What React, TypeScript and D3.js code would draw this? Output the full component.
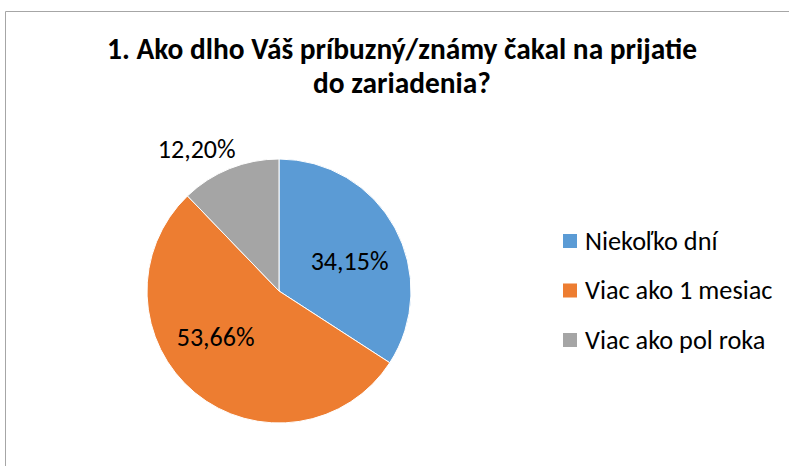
import { useRef, useEffect } from "react";
import * as d3 from "d3";

const categories = ["Niekoľko dní", "Viac ako 1 mesiac", "Viac ako pol roka"];
const values = [34.15, 53.66, 12.2];
const labels = ["34,15%", "53,66%", "12,20%"];
const colors = ["#5B9BD5", "#ED7D31", "#A5A5A5"];
const titleLines = ["1. Ako dlho Váš príbuzný/známy čakal na prijatie", "do zariadenia?"];

const W = 789;
const H = 466;
const FONT = "Carlito, Calibri, Lato, sans-serif";

export default function App() {
  const svgRef = useRef<SVGSVGElement>(null);

  useEffect(() => {
    document.body.style.margin = "0";
    if (!svgRef.current) return;
    const svg = d3.select(svgRef.current);
    svg.selectAll("*").remove();

    svg.append("rect").attr("width", W).attr("height", H).attr("fill", "#fff");

    // chart frame (only top and left edges fall inside the picture)
    svg
      .append("path")
      .attr("d", `M5.5,${H} V11.5 H${W}`)
      .attr("fill", "none")
      .attr("stroke", "#a6a6a6")
      .attr("stroke-width", 1);

    // title
    svg
      .append("g")
      .selectAll("text")
      .data(titleLines)
      .join("text")
      .attr("x", 402)
      .attr("y", (_, i) => 59 + i * 34)
      .attr("text-anchor", "middle")
      .attr("font-family", FONT)
      .attr("font-weight", "bold")
      .attr("font-size", "29.4px")
      .attr("fill", "#000")
      .text((d) => d);

    const cx = 279;
    const cy = 291;
    const r = 132;

    const pie = d3.pie<number>().sort(null).value((d) => d);
    const arcs = pie(values);
    const arc = d3.arc<d3.PieArcDatum<number>>().innerRadius(0).outerRadius(r);

    const g = svg.append("g").attr("transform", `translate(${cx},${cy})`);
    g.selectAll("path")
      .data(arcs)
      .join("path")
      .attr("d", arc)
      .attr("fill", (_, i) => colors[i])
      .attr("stroke", "#fff")
      .attr("stroke-width", 1);

    // data labels: best-fit like Excel — inside for big slices, outside for the small one
    const labelArc = d3.arc<d3.PieArcDatum<number>>().innerRadius(r * 0.6).outerRadius(r * 0.6);
    const outerArc = d3.arc<d3.PieArcDatum<number>>().innerRadius(r * 1.16).outerRadius(r * 1.16);
    const nudge = [
      [1, 8],
      [-13, -15],
      [-25, 0],
    ];
    g.selectAll("text")
      .data(arcs)
      .join("text")
      .attr("transform", (d, i) => {
        const [x, y] = i === 2 ? outerArc.centroid(d) : labelArc.centroid(d);
        return `translate(${x + nudge[i][0]},${y + nudge[i][1]})`;
      })
      .attr("text-anchor", "middle")
      .attr("dy", "0.35em")
      .attr("font-family", FONT)
      .attr("font-size", "26px")
      .attr("fill", "#000")
      .text((_, i) => labels[i]);

    // legend
    const legendY = d3.scalePoint<string>().domain(categories).range([241, 340]);
    const lg = svg.append("g");
    const item = lg
      .selectAll("g")
      .data(categories)
      .join("g")
      .attr("transform", (d) => `translate(563,${legendY(d)})`);
    item
      .append("rect")
      .attr("x", 0)
      .attr("y", -7)
      .attr("width", 14)
      .attr("height", 14)
      .attr("fill", (_, i) => colors[i]);
    item
      .append("text")
      .attr("x", 22)
      .attr("dy", "0.33em")
      .attr("font-family", FONT)
      .attr("font-size", "26.3px")
      .attr("fill", "#000")
      .text((d) => d);
  }, []);

  return <svg ref={svgRef} width={W} height={H} style={{ display: "block" }} />;
}
